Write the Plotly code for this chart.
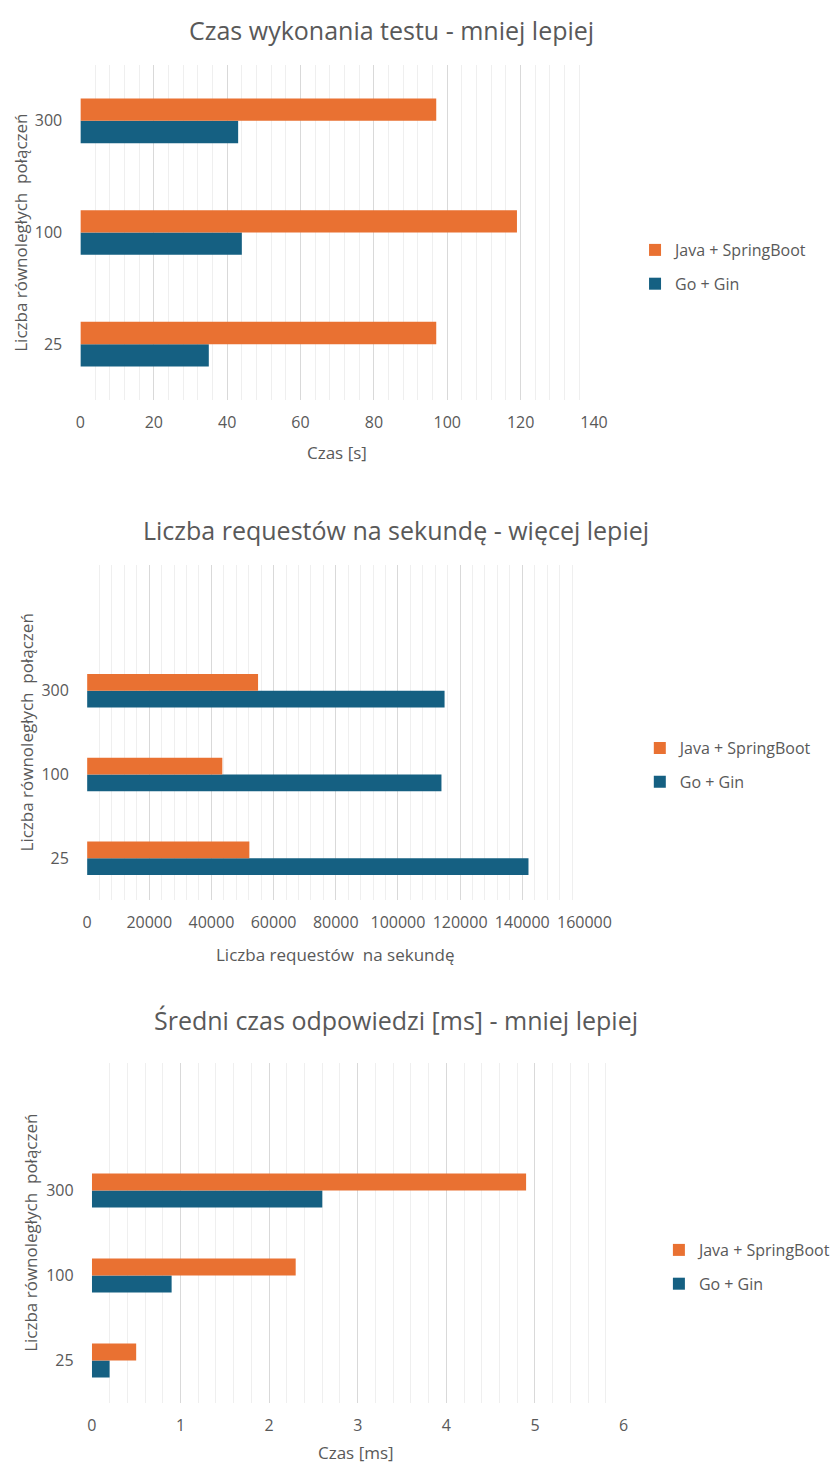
import plotly.graph_objects as go

W, H = 837, 1465

categories = ["25", "100", "300"]
series_names = ["Go + Gin", "Java + SpringBoot"]

# Chart 1: Czas wykonania testu [s]
time_go = [35, 44, 43]
time_java = [97, 119, 97]

# Chart 2: requests per second
rps_go = [142000, 114000, 115000]
rps_java = [52200, 43500, 55000]

# Chart 3: średni czas odpowiedzi [ms]
lat_go = [0.2, 0.9, 2.6]
lat_java = [0.5, 2.3, 4.9]

titles = ["Czas wykonania testu - mniej lepiej",
          "Liczba requestów na sekundę - więcej lepiej",
          "Średni czas odpowiedzi [ms] - mniej lepiej"]
x_titles = ["Czas [s]", "Liczba requestów\u00a0 na sekundę", "Czas [ms]"]
y_title = "Liczba równoległych\u00a0 połączeń"

C_GO = "#156082"
C_JAVA = "#E97132"
TXT = "#595959"
FONT = "Open Sans"

def px(x):
    return x / W

def py(y):
    return 1 - y / H

# layout geometry in pixels: (x0, x1, y_top, y_bottom)
boxes = [(79, 617, 65, 400), (86, 607, 565, 900), (91, 648, 1063, 1403)]
xranges = [[0, 140], [0, 160000], [0, 6]]
major = [20, 20000, 1]
minor = [4, 4000, 0.2]
yranges = [[-0.5, 2.5], [-0.5, 3.5], [-0.5, 3.5]]
title_pos = [(405, 30), (410, 530), (410, 1020)]
xtitle_pos = [(348, 452), (346, 954), (368, 1452)]
ytitle_x = [16, 23, 26]
legend_pos = [(660, 233), (665, 731), (685, 1233)]

data = [(time_go, time_java), (rps_go, rps_java), (lat_go, lat_java)]

fig = go.Figure()
annotations = []
for i in range(3):
    n = "" if i == 0 else str(i + 1)
    go_vals, java_vals = data[i]
    leg = "legend" + n
    fig.add_trace(go.Bar(y=categories, x=go_vals, orientation="h", name=series_names[0],
                         marker=dict(color=C_GO, line=dict(width=0)),
                         xaxis="x" + n, yaxis="y" + n, legend=leg, legendgroup="g" + n,
                         legendrank=2))
    fig.add_trace(go.Bar(y=categories, x=java_vals, orientation="h", name=series_names[1],
                         marker=dict(color=C_JAVA, line=dict(width=0)),
                         xaxis="x" + n, yaxis="y" + n, legend=leg, legendgroup="j" + n,
                         legendrank=1))
    x0, x1, yt, yb = boxes[i]
    fig.update_layout(**{
        "xaxis" + n: dict(domain=[px(x0), px(x1)], range=xranges[i], anchor="y" + n,
                          tick0=0, dtick=major[i], showgrid=True, gridcolor="#D9D9D9",
                          gridwidth=1, zeroline=False, showline=False,
                          tickformat="d" if i == 1 else None,
                          ticks="outside", ticklen=8, tickcolor="rgba(0,0,0,0)",
                          tickfont=dict(family=FONT, size=16, color=TXT),
                          minor=dict(dtick=minor[i], tick0=0, showgrid=True,
                                     gridcolor="#EFEFEF", gridwidth=1)),
        "yaxis" + n: dict(domain=[py(yb), py(yt)], range=yranges[i], anchor="x" + n,
                          type="category", categoryorder="array", categoryarray=categories,
                          showgrid=False, zeroline=False, showline=False,
                          ticks="outside", ticklen=14, tickcolor="rgba(0,0,0,0)",
                          tickfont=dict(family=FONT, size=16, color=TXT)),
        leg: dict(x=px(legend_pos[i][0]), y=py(legend_pos[i][1]), xanchor="left", yanchor="top",
                  traceorder="grouped", tracegroupgap=10,
                  font=dict(family=FONT, size=16, color=TXT), bgcolor="rgba(0,0,0,0)"),
    })
    annotations.append(dict(text=titles[i], x=px(title_pos[i][0]), y=py(title_pos[i][1]),
                            xref="paper", yref="paper", showarrow=False,
                            xanchor="center", yanchor="middle",
                            font=dict(family=FONT, size=25, color=TXT)))
    annotations.append(dict(text=x_titles[i], x=px(xtitle_pos[i][0]), y=py(xtitle_pos[i][1]),
                            xref="paper", yref="paper", showarrow=False,
                            xanchor="center", yanchor="middle",
                            font=dict(family=FONT, size=17, color=TXT)))
    annotations.append(dict(text=y_title, x=px(ytitle_x[i]), y=py((yt + yb) / 2),
                            xref="paper", yref="paper", showarrow=False, textangle=-90,
                            xanchor="center", yanchor="middle",
                            font=dict(family=FONT, size=17, color=TXT)))

fig.update_layout(width=W, height=H, margin=dict(l=0, r=0, t=0, b=0),
                  paper_bgcolor="white", plot_bgcolor="white",
                  barmode="group", bargap=0.6, bargroupgap=0,
                  annotations=annotations, showlegend=True)

fig.write_html("out.html")
